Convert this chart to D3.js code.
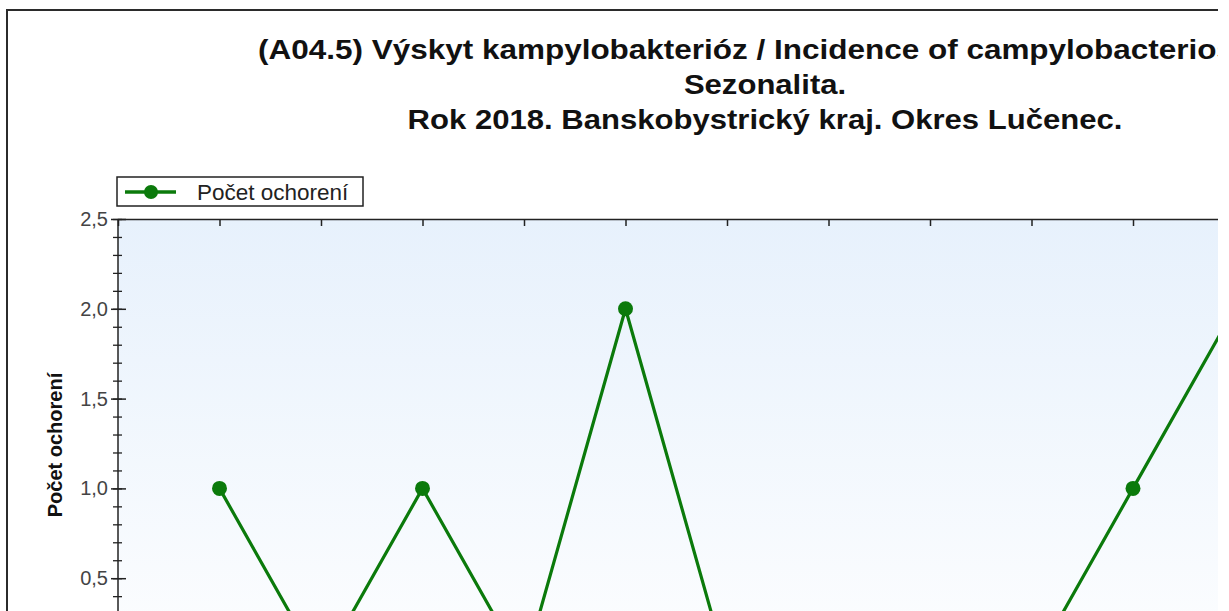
<!DOCTYPE html>
<html>
<head>
<meta charset="utf-8">
<script src="https://cdn.jsdelivr.net/npm/d3@7"></script>
<style>
  html, body { margin: 0; padding: 0; background: #ffffff; overflow: hidden; }
  svg { display: block; overflow: hidden; }
</style>
</head>
<body>
<script>
// ---- data ----
const titleLines = [
  "(A04.5) Výskyt kampylobakterióz / Incidence of campylobacteriosis",
  "Sezonalita.",
  "Rok 2018. Banskobystrický kraj. Okres Lučenec."
];
const seriesName = "Počet ochorení";
const yAxisTitle = "Počet ochorení";
const months = [1, 2, 3, 4, 5, 6, 7, 8, 9, 10, 11, 12];
const monthsWithData = [1, 2, 3, 4, 5, 6, 7, 8, 9, 10, 11];
const cases = [1, 0, 1, 0, 2, 0, 0, 0, 0, 1, 2];
const yTicks = [0.5, 1.0, 1.5, 2.0, 2.5];

// ---- layout ----
const W = 1218, H = 611;
const svg = d3.select("body").append("svg").attr("width", W).attr("height", H);

const defs = svg.append("defs");
const grad = defs.append("linearGradient").attr("id", "bg").attr("x1", 0).attr("y1", 0).attr("x2", 0).attr("y2", 1);
grad.append("stop").attr("offset", "0%").attr("stop-color", "#e7f1fc");
grad.append("stop").attr("offset", "100%").attr("stop-color", "#ffffff");

// outer frame
svg.append("rect").attr("x", 7).attr("y", 10).attr("width", 1500).attr("height", 900)
  .attr("fill", "#ffffff").attr("stroke", "#2b2b2b").attr("stroke-width", 2);

const x = d3.scaleLinear().domain([0, 13]).range([118, 1437.5]);
const y = d3.scaleLinear().domain([0, 2.5]).range([668, 219]);

// plot background
svg.append("rect").attr("x", x(0)).attr("y", y(2.5))
  .attr("width", x(13) - x(0)).attr("height", y(0) - y(2.5) + 40)
  .attr("fill", "url(#bg)");

// titles
const titleG = svg.append("g").attr("font-family", "'Liberation Sans', Arial, sans-serif")
  .attr("font-weight", "bold").attr("fill", "#111");
const titleY = [59, 94, 129];
titleLines.forEach((t, i) => {
  const tx = titleG.append("text")
    .attr("font-size", 27.5)
    .text(t);
  if (i === 0) {
    tx.attr("transform", `translate(258,${titleY[i]}) scale(1.145,1)`).attr("text-anchor", "start");
  } else {
    tx.attr("transform", `translate(765,${titleY[i]}) scale(1.13,1)`).attr("text-anchor", "middle");
  }
});

// top axis (month ticks)
const topAxis = d3.axisTop(x).tickValues(months).tickSize(-7).tickFormat("");
const gTop = svg.append("g").attr("transform", `translate(0,${y(2.5)})`).call(topAxis);
gTop.select(".domain").attr("stroke", "#222").attr("stroke-width", 1.5);
gTop.selectAll(".tick line").attr("stroke", "#222").attr("stroke-width", 1.5);

// left axis minor ticks
const minor = d3.range(0, 2.5001, 0.1).map(v => Math.round(v * 10) / 10);
const gMinor = svg.append("g").attr("transform", `translate(${x(0) + 4},0)`)
  .call(d3.axisLeft(y).tickValues(minor).tickSize(9).tickFormat(""));
gMinor.select(".domain").remove();
gMinor.selectAll(".tick line").attr("stroke", "#222").attr("stroke-width", 1.3);

// left axis major ticks + labels
const gLeft = svg.append("g").attr("transform", `translate(${x(0) + 8},0)`)
  .call(d3.axisLeft(y).tickValues(yTicks).tickSize(15).tickPadding(3)
    .tickFormat(d => d3.format(".1f")(d).replace(".", ",")));
gLeft.select(".domain").remove();
gLeft.selectAll(".tick line").attr("stroke", "#222").attr("stroke-width", 1.5);
gLeft.selectAll(".tick text").attr("font-family", "'Liberation Sans', Arial, sans-serif")
  .attr("font-size", 20).attr("fill", "#444");
// left spine
svg.append("line").attr("x1", x(0)).attr("x2", x(0)).attr("y1", y(2.5)).attr("y2", H + 20)
  .attr("stroke", "#222").attr("stroke-width", 1.5);

// y axis title
svg.append("text")
  .attr("transform", `translate(62,445) rotate(-90)`)
  .attr("text-anchor", "middle")
  .attr("font-family", "'Liberation Sans', Arial, sans-serif")
  .attr("font-weight", "bold").attr("font-size", 20).attr("fill", "#111")
  .text(yAxisTitle);

// series
const green = "#0b7a0b";
const pts = monthsWithData.map((m, i) => ({ m, v: cases[i] }));
const line = d3.line().x(d => x(d.m)).y(d => y(d.v));
svg.append("path").datum(pts).attr("d", line)
  .attr("fill", "none").attr("stroke", green).attr("stroke-width", 3.2).attr("stroke-linejoin", "round");
svg.append("g").selectAll("circle").data(pts).join("circle")
  .attr("cx", d => x(d.m)).attr("cy", d => y(d.v)).attr("r", 7.5).attr("fill", green);

// legend
const lg = svg.append("g");
lg.append("rect").attr("x", 117).attr("y", 177).attr("width", 246).attr("height", 29)
  .attr("fill", "#ffffff").attr("stroke", "#222").attr("stroke-width", 1.5);
lg.append("line").attr("x1", 125).attr("x2", 176).attr("y1", 192).attr("y2", 192)
  .attr("stroke", green).attr("stroke-width", 3.5);
lg.append("circle").attr("cx", 151).attr("cy", 192).attr("r", 7).attr("fill", green);
lg.append("text").attr("x", 197).attr("y", 200)
  .attr("font-family", "'Liberation Sans', Arial, sans-serif").attr("font-size", 22.5)
  .attr("fill", "#222").text(seriesName);
</script>
</body>
</html>
